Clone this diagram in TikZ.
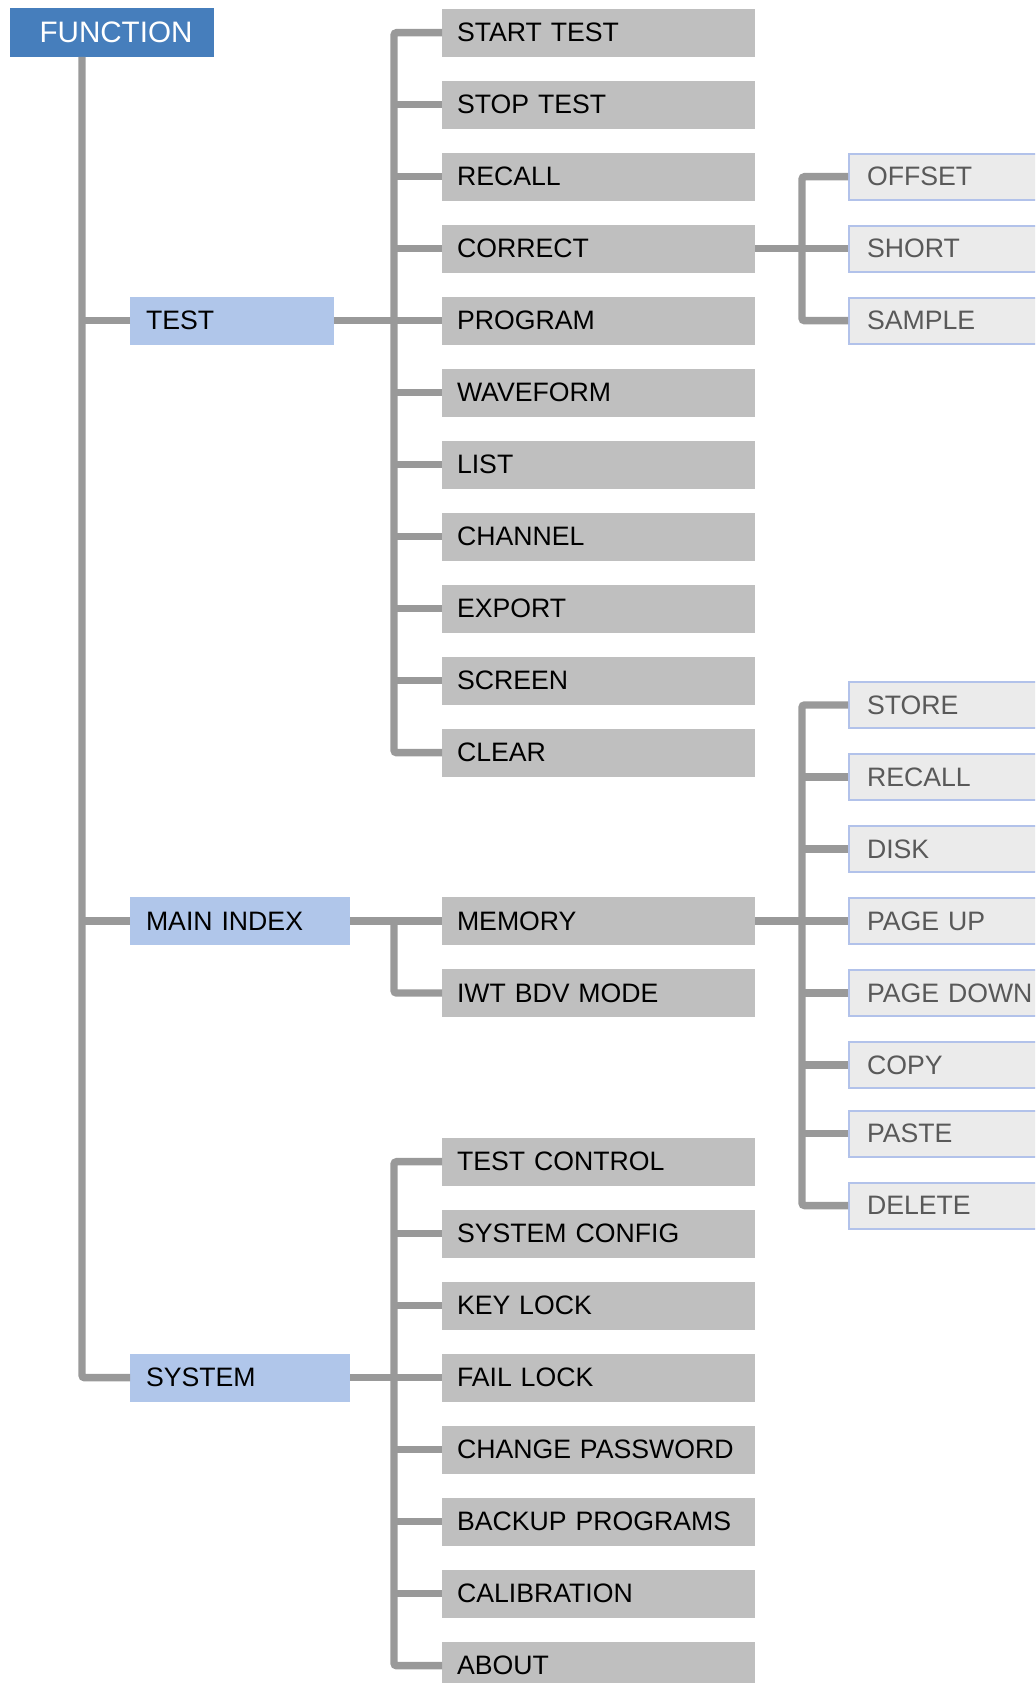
\documentclass[tikz,border=0pt]{standalone}
\usepackage{fontspec}
\setmainfont{Liberation Sans}
\usepackage{tikz}
\usetikzlibrary{positioning}

\definecolor{funcblue}{RGB}{70,126,188}
\definecolor{grpblue}{RGB}{176,198,234}
\definecolor{itemgray}{RGB}{191,191,191}
\definecolor{subfill}{RGB}{235,235,235}
\definecolor{subedge}{RGB}{178,194,234}
\definecolor{subtext}{RGB}{89,89,89}
\definecolor{wiregray}{RGB}{153,153,153}

\tikzset{
    func/.style={fill=funcblue, text=white, minimum width=153pt, minimum height=36.75pt,
        inner sep=0pt, outer sep=0pt, font=\fontsize{22.2}{25}\selectfont},
    group/.style={fill=grpblue, anchor=west, minimum height=36pt, inner xsep=12pt,
        inner ysep=0pt, outer sep=0pt, align=left},
    item/.style={fill=itemgray, minimum height=36pt, text width=212.25pt, inner xsep=11.25pt,
        inner ysep=0pt, outer sep=0pt, align=left},
    sub/.style={fill=subfill, draw=subedge, line width=1.5pt, text=subtext, minimum height=34.5pt,
        text width=160pt, inner xsep=13.5pt, inner ysep=0pt, outer sep=0.75pt, align=left},
    wire/.style={draw=wiregray, line width=5.6pt, rounded corners=2pt}
}

\begin{document}
\begin{tikzpicture}[x=0.75pt, y=-0.75pt, node distance=18pt, font=\fontsize{20}{23}\selectfont]
        \useasboundingbox (0,0) rectangle (1035,1683);
        \clip (0,0) rectangle (1035,1683);

        % Root
        \node (func) [func] at (112,32.5) {\hspace*{6pt}FUNCTION};
        \coordinate (trunk) at (82,57);

        % Groups
        \node (test) [group, text width=129pt] at (130,320.7) {TEST};
        \node (mainidx) [group, text width=141pt] at (130,921) {MAIN INDEX};
        \node (system) [group, text width=141pt] at (130,1377.7) {SYSTEM};

        % TEST items
        \node (start) [item, anchor=west] at (442,32.7) {START TEST};
        \node (stop) [item, below=of start] {STOP TEST};
        \node (recall) [item, below=of stop] {RECALL};
        \node (correct) [item, below=of recall] {CORRECT};
        \node (prog) [item, below=of correct] {PROGRAM};
        \node (wave) [item, below=of prog] {WAVEFORM};
        \node (list) [item, below=of wave] {LIST};
        \node (chan) [item, below=of list] {CHANNEL};
        \node (export) [item, below=of chan] {EXPORT};
        \node (screen) [item, below=of export] {SCREEN};
        \node (clear) [item, below=of screen] {CLEAR};

        % CORRECT subitems
        \node (offset) [sub, anchor=west] at (848,176.7) {OFFSET};
        \node (short) [sub, below=of offset] {SHORT};
        \node (sample) [sub, below=of short] {SAMPLE};

        % MAIN INDEX items
        \node (memory) [item, anchor=west] at (442,921) {MEMORY};
        \node (iwt) [item, below=of memory] {IWT BDV MODE};

        % MEMORY subitems
        \node (store) [sub, anchor=west] at (848,705) {STORE};
        \node (mrecall) [sub, below=of store] {RECALL};
        \node (disk) [sub, below=of mrecall] {DISK};
        \node (pgup) [sub, below=of disk] {PAGE UP};
        \node (pgdown) [sub, below=of pgup] {PAGE DOWN};
        \node (copy) [sub, below=of pgdown] {COPY};
        \node (paste) [sub, below=15.4pt of copy] {PASTE};
        \node (delete) [sub, below=of paste] {DELETE};

        % SYSTEM items
        \node (testctl) [item, anchor=west] at (442,1161.7) {TEST CONTROL};
        \node (syscfg) [item, below=of testctl] {SYSTEM CONFIG};
        \node (keylock) [item, below=of syscfg] {KEY LOCK};
        \node (faillock) [item, below=of keylock] {FAIL LOCK};
        \node (chpass) [item, below=of faillock] {CHANGE PASSWORD};
        \node (backup) [item, below=of chpass] {BACKUP PROGRAMS};
        \node (calib) [item, below=of backup] {CALIBRATION};
        \node (about) [item, below=of calib] {ABOUT};

        % Trunk
        \draw[wire] (trunk) |- (system.west);
        \draw[wire] (test.west) -- (test.west -| trunk);
        \draw[wire] (mainidx.west) -- (mainidx.west -| trunk);

        % TEST branch
        \draw[wire] (test.east) -- (prog.west);
        \draw[wire] (start.west) -- ++(-48,0) |- (clear.west);
        \foreach \n in {stop,recall,correct,wave,list,chan,export,screen}
            \draw[wire] (\n.west) -- ++(-48,0);
        \draw[wire] (correct.east) -- (short.west);
        \draw[wire] (offset.west) -- ++(-46,0) |- (sample.west);

        % MAIN INDEX branch
        \draw[wire] (mainidx.east) -- (memory.west);
        \draw[wire] ([xshift=-36pt]memory.west) |- (iwt.west);
        \draw[wire] (memory.east) -- (pgup.west);
        \draw[wire] (store.west) -- ++(-46,0) |- (delete.west);
        \foreach \n in {mrecall,disk,pgdown,copy,paste}
            \draw[wire] (\n.west) -- ++(-46,0);

        % SYSTEM branch
        \draw[wire] (system.east) -- (faillock.west);
        \draw[wire] (testctl.west) -- ++(-48,0) |- (about.west);
        \foreach \n in {syscfg,keylock,chpass,backup,calib}
            \draw[wire] (\n.west) -- ++(-48,0);

    \end{tikzpicture}
\end{document}
